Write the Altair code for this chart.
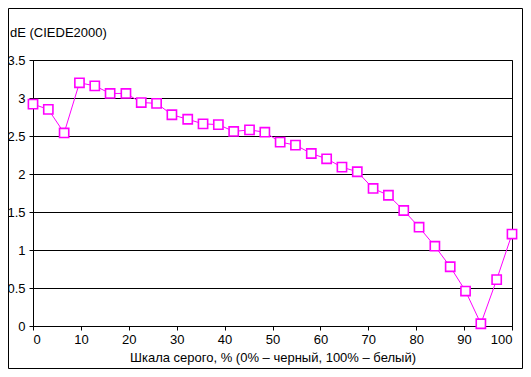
import altair as alt
import pandas as pd

gray_pct = [0, 3.2, 6.5, 9.7, 12.9, 16.1, 19.4, 22.6, 25.8, 29.0, 32.3, 35.5, 38.7,
            41.9, 45.2, 48.4, 51.6, 54.8, 58.1, 61.3, 64.5, 67.7, 71.0, 74.2, 77.4,
            80.6, 83.9, 87.1, 90.3, 93.5, 96.8, 100]
de_values = [2.92, 2.85, 2.54, 3.20, 3.16, 3.06, 3.06, 2.94, 2.93, 2.78, 2.72, 2.66,
             2.65, 2.56, 2.58, 2.55, 2.42, 2.38, 2.27, 2.20, 2.09, 2.03, 1.81, 1.72,
             1.52, 1.30, 1.05, 0.78, 0.46, 0.03, 0.61, 1.21]

x_ticks = [0, 10, 20, 30, 40, 50, 60, 70, 80, 90, 100]
y_ticks = [0, 0.5, 1, 1.5, 2, 2.5, 3, 3.5]

title_text = "dE (CIEDE2000)"
x_title = "Шкала серого, % (0% – черный, 100% – белый)"

df = pd.DataFrame({"x": gray_pct, "y": de_values})
FONT = "Liberation Sans"
FS = 13
MAG = "#FF00FF"

x_enc = alt.X("x:Q", scale=alt.Scale(domain=[0, 100], nice=False, zero=False),
              axis=alt.Axis(values=x_ticks, title=x_title, grid=False,
                            tickSize=4, labelPadding=3, titlePadding=5))
y_enc = alt.Y("y:Q", scale=alt.Scale(domain=[0, 3.5], nice=False),
              axis=alt.Axis(values=y_ticks, title=None, format=".1~f", grid=True,
                            tickSize=4, labelPadding=4, labelOverlap=False))

base = alt.Chart(df).encode(x=x_enc, y=y_enc)
line = base.mark_line(color=MAG, strokeWidth=1)
pts = base.mark_point(shape="square", size=85, filled=True, fill="white",
                      stroke=MAG, strokeWidth=1.6, opacity=1)

dummy = pd.DataFrame({"t": [title_text]})
border = alt.Chart(dummy).mark_rect(fill=None, stroke="black", strokeWidth=1).encode(
    x=alt.value(-24.5), x2=alt.value(489.5), y=alt.value(-51.5), y2=alt.value(308.5))
title = alt.Chart(dummy).mark_text(align="left", baseline="middle", font=FONT,
                                   fontSize=FS, color="black").encode(
    x=alt.value(-23), y=alt.value(-27), text="t:N")

chart = alt.layer(line, pts, border, title).properties(
    width=479, height=266,
    background="white",
    autosize=alt.AutoSizeParams(type="none"),
    padding={"left": 25, "top": 52, "right": 11, "bottom": 43},
).configure_view(stroke="black", strokeWidth=1
).configure_axis(labelFont=FONT, titleFont=FONT, labelFontSize=FS, titleFontSize=FS,
                 titleFontWeight="normal", labelColor="black", titleColor="black",
                 domainColor="black", tickColor="black", gridColor="black",
                 gridOpacity=1, gridWidth=1)

chart.save("out.html", embed_options={"renderer": "svg", "actions": False})
